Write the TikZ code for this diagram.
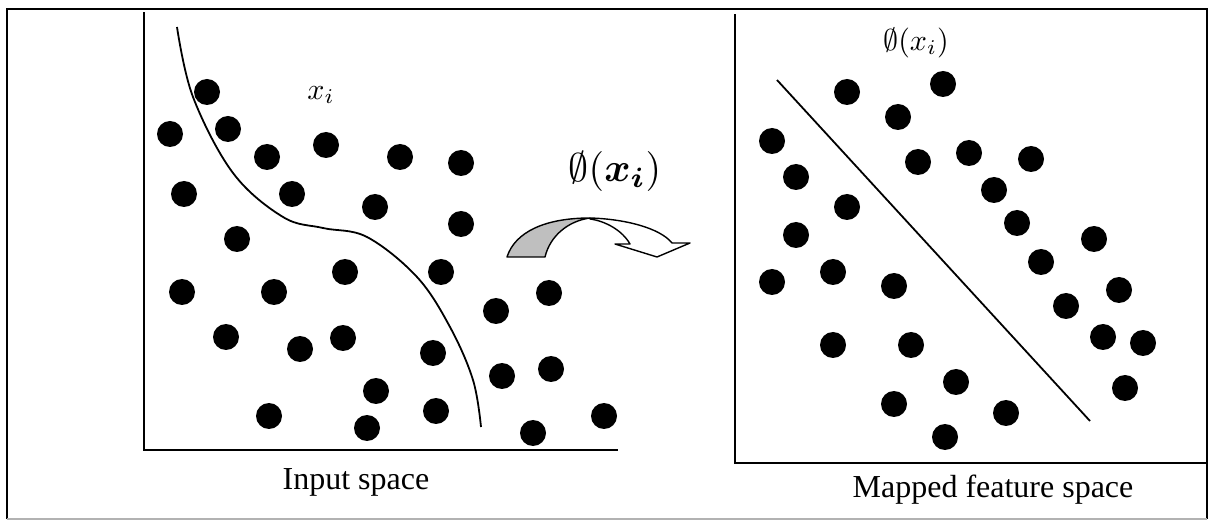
\documentclass[tikz,border=0pt]{standalone}
\usepackage{amsmath}
\usepackage{fontspec}
\setmainfont{Liberation Serif}
\begin{document}
\begin{tikzpicture}[x=1pt,y=-1pt,
  dot/.style={fill=black},
  axis/.style={line width=2pt,line cap=rect},
  sep/.style={line width=1.8pt},
  lbl/.style={inner sep=0pt}]
\useasboundingbox (0,0) rectangle (1211,521);
% frame
\draw[line width=2pt] (7,519) -- (7,9) -- (1207,9) -- (1207,519);
\draw[line width=1.5pt,gray!60] (7,519) -- (1207,519);
% left axes
\draw[axis] (144,13) -- (144,450) -- (617,450);
% right axes
\draw[axis] (735,15) -- (735,463) -- (1207,463);
% left separating curve
\draw[sep] plot[smooth,tension=0.6] coordinates {(177,27) (193,97) (233,173) (283,217) (323,228) (367,237) (417,277) (450,327) (473,380) (481,427)};
% right separating line
\coordinate (l1) at (777,80);
\coordinate (l2) at (1090,421);
\draw[sep] (l1) -- (l2);
% left dots
\foreach \p in {(207,92),(170,134),(228,129),(267,157),(326,145),(400,157),(461,163),(184,194),(292,194),(375,207),(461,224),(237,239),(345,272),(441,272),(182,292),(274,292),(226,337),(300,349),(343,338),(433,353),(376,391),(269,416),(367,428),(436,411),(496,311),(549,293),(502,376),(551,369),(533,433),(604,416)}
  \fill[dot] \p circle (13);
% right dots
\foreach \p in {(847,92),(943,84),(898,117),(772,141),(918,162),(969,153),(1031,159),(796,177),(994,190),(847,207),(1017,223),(796,235),(1094,239),(1041,262),(772,282),(833,272),(894,286),(1119,290),(1066,306),(833,345),(911,345),(1103,337),(1143,343),(956,382),(1125,388),(894,404),(1006,413),(945,437)}
  \fill[dot] \p circle (13);
% labels
\node[lbl] (xi) at (321,95) {\scalebox{3}{$x_i$}};
\node[lbl] (phir) at (916,43) {\scalebox{3}{$\emptyset(x_i)$}};
\node[lbl] (phib) at (615,172) {\scalebox{4}{$\emptyset(\boldsymbol{x}_{\boldsymbol{i}})$}};
\node[lbl] (inp) at (356,482) {\fontsize{32}{38}\selectfont Input space};
\node[lbl] (map) at (993,490) {\fontsize{32}{38}\selectfont Mapped feature space};
% curved arrow
\fill[black!25,draw=black,line width=1.4pt,line join=round]
  (507,257) .. controls (515,232) and (545,218) .. (590,218)
  .. controls (568,221) and (550,236) .. (545,257) -- cycle;
\fill[white,draw=black,line width=1.4pt,line join=round]
  (590,218) .. controls (625,219) and (660,228) .. (672,243)
  -- (690,243) -- (657,257) -- (615,244) -- (630,244)
  .. controls (622,230) and (605,221) .. (590,219) -- cycle;
\end{tikzpicture}
\end{document}
